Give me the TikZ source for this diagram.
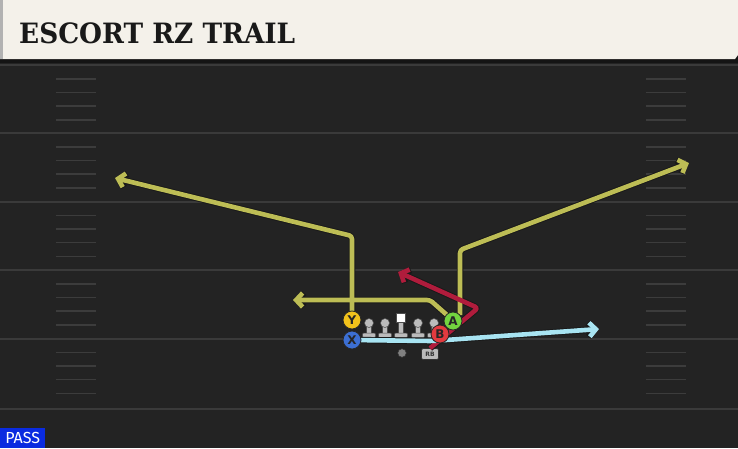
\documentclass[tikz,border=0pt]{standalone}
\usepackage{fontspec}
\setmainfont{DejaVu Sans}
\newfontfamily\titlefont{DejaVu Serif Condensed Bold}
\newfontfamily\passfont{Fira Sans}
\usetikzlibrary{arrows.meta}
\definecolor{field}{HTML}{232323}
\definecolor{yardc}{HTML}{3A3A3A}
\definecolor{hashc}{HTML}{3C3C3C}
\definecolor{cream}{HTML}{F4F1EA}
\definecolor{routeY}{HTML}{BDBD55}
\definecolor{routeR}{HTML}{B01C3C}
\definecolor{routeC}{HTML}{A8E4F2}
\definecolor{pY}{HTML}{F2C21B}
\definecolor{pX}{HTML}{3C6FD3}
\definecolor{pA}{HTML}{72D43F}
\definecolor{pB}{HTML}{E23A3F}
\definecolor{lineman}{HTML}{BBBBBB}
\definecolor{passblue}{HTML}{0A2BE0}
\tikzset{
  yard/.style={draw=yardc, line width=2pt},
  hashm/.style={draw=hashc, line width=1.5pt},
  routeO/.style={draw=black!90, line width=6.5pt, line join=round, rounded corners=3pt, -{Straight Barb[length=6.5pt,width=14pt]}},
  routeI/.style={line width=4.6pt, line join=round, rounded corners=3pt, -{Straight Barb[length=6.5pt,width=14pt]}},
  player/.style={circle, minimum size=18pt, inner sep=0pt, draw=black!85, line width=0.8pt, font=\bfseries\fontsize{12}{12}\selectfont, text=black!85},
  lhead/.style={circle, minimum size=9pt, inner sep=0pt, fill=lineman, draw=black!70, line width=0.5pt},
}
\begin{document}
\begin{tikzpicture}[x=1pt,y=-1pt]
\useasboundingbox (0,0) rectangle (738,448);
\fill[field] (0,0) rectangle (738,448);
% yard lines
\foreach \yy in {65,133,201.5,270,338.5,408.5} {
  \draw[yard] (0,\yy) -- (738,\yy);
}
% hash marks
\foreach \yy in {65,133,201.5,270,338.5} {
  \foreach \dd in {14,27.5,41,55} {
    \draw[hashm] (56,\yy+\dd) -- (96,\yy+\dd);
    \draw[hashm] (646,\yy+\dd) -- (686,\yy+\dd);
  }
}
% header
\fill[black!92] (0,56) rectangle (738,63);
\fill[cream] (0,0) -- (738,0) -- (738,55) -- (735,59) -- (0,59) -- cycle;
\fill[black!30] (0,0) rectangle (3,59);
\node[anchor=base west, inner sep=0pt, font=\titlefont\fontsize{28}{28}\selectfont, text=black!90] (title) at (19,43) {\scalebox{1.045}[1]{ESCORT RZ TRAIL}};
% PASS label
\node[anchor=south west, fill=passblue, text=white, inner sep=0pt, minimum width=45pt, minimum height=20pt, font=\passfont\fontsize{16}{16}\selectfont] (pass) at (0,448) {PASS};
% linemen
\foreach \xx/\nm in {369/l1,385/l2,418/l4,434/l5} {
  \fill[lineman, draw=black!70, line width=0.5pt] (\xx-2.5,324) rectangle (\xx+2.5,334);
  \fill[lineman, draw=black!70, line width=0.5pt, rounded corners=1pt] (\xx-6.5,333) rectangle (\xx+6.5,337.5);
  \node[lhead] (\nm) at (\xx,323) {};
}
\fill[lineman, draw=black!70, line width=0.5pt] (398.5,321) rectangle (403.5,334);
\fill[lineman, draw=black!70, line width=0.5pt, rounded corners=1pt] (394.5,333) rectangle (407.5,337.5);
\node[rectangle, minimum size=9pt, inner sep=0pt, fill=white, draw=black!70, line width=0.5pt] (center) at (401,318) {};
% QB and RB
\node[circle, minimum size=8.5pt, inner sep=0pt, fill=black!50, draw=black!80, line width=0.5pt] (qb) at (402,353) {};
\node[rectangle, rounded corners=2pt, minimum width=17pt, minimum height=11pt, inner sep=0pt, fill=lineman, draw=black!80, line width=0.6pt, font=\bfseries\fontsize{6}{6}\selectfont, text=black!80] (rb) at (430,354) {RB};
% players positions
\coordinate (Ypos) at (352,320);
\coordinate (Xpos) at (352,340);
\coordinate (Apos) at (453,321);
\coordinate (Bpos) at (440,334);
% route corners
\coordinate (yc) at (352,236);
\coordinate (yend) at (115,178);
\coordinate (ac) at (460,250);
\coordinate (aend) at (689,163);
\coordinate (dc) at (430,300);
\coordinate (dend) at (293,300);
\coordinate (rc) at (478,308);
\coordinate (rend) at (398,272);
\coordinate (cc) at (432,341);
\coordinate (cend) at (599,329);
% routes: outlines
\draw[routeO] (Ypos) -- (yc) -- (yend);
\draw[routeO] (Apos) ++(7,-6) -- (ac |- 0,250) -- (aend);
\draw[routeO] (Apos) ++(-6,-6) -- (dc) -- (dend);
\draw[routeO] (rb.north) -- (rc) -- (rend);
\draw[routeO] (Xpos) -- (cc) -- (cend);
% routes: colour
\draw[routeI, draw=routeY] (Ypos) -- (yc) -- (yend);
\draw[routeI, draw=routeY] (Apos) ++(7,-6) -- (ac |- 0,250) -- (aend);
\draw[routeI, draw=routeY] (Apos) ++(-6,-6) -- (dc) -- (dend);
\draw[routeI, draw=routeR] (rb.north) -- (rc) -- (rend);
\draw[routeI, draw=routeC] (Xpos) -- (cc) -- (cend);
% skill players
\node[player, fill=pY] (Y) at (Ypos) {Y};
\node[player, fill=pX] (X) at (Xpos) {X};
\node[player, fill=pA] (A) at (Apos) {A};
\node[player, fill=pB] (B) at (Bpos) {B};
\end{tikzpicture}
\end{document}
